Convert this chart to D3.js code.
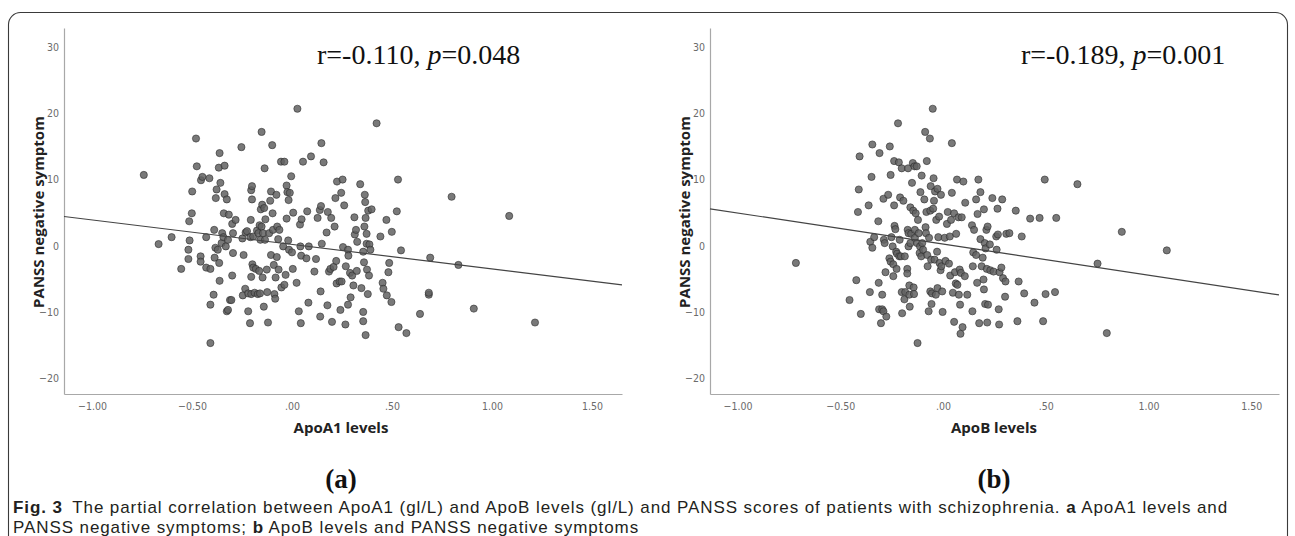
<!DOCTYPE html>
<html>
<head>
<meta charset="utf-8">
<script src="https://cdn.jsdelivr.net/npm/d3@7"></script>
<style>
  body { margin: 0; background: #fff; }
  svg { display: block; }
</style>
</head>
<body>
<div id="chart"></div>
<script>
// tick values shared by both panels
const xTicks = [-1, -0.5, 0, 0.5, 1, 1.5];
const yTicks = [-20, -10, 0, 10, 20, 30];

// panel (a): ApoA1 levels vs PANSS negative symptom
const apoA1X = [
  -0.741,-0.667,-0.602,-0.554,-0.514,-0.501,-0.512,-0.518,-0.518,-0.499,
  -0.48,-0.476,-0.457,-0.457,-0.455,-0.448,-0.429,-0.429,-0.413,-0.408,
  -0.408,-0.408,-0.392,-0.389,-0.387,-0.383,-0.381,-0.377,-0.371,-0.366,
  -0.364,-0.362,-0.362,-0.358,-0.352,-0.349,-0.343,-0.341,-0.337,-0.337,
  -0.331,-0.326,-0.326,-0.320,-0.320,-0.316,-0.310,-0.303,-0.299,-0.299,
  -0.295,-0.295,-0.282,-0.253,-0.248,-0.242,-0.246,-0.232,-0.234,-0.225,
  -0.219,-0.219,-0.210,-0.208,-0.206,-0.204,-0.204,-0.204,-0.200,-0.200,
  -0.198,-0.194,-0.194,-0.187,-0.181,-0.175,-0.171,-0.168,-0.164,-0.162,
  -0.160,-0.158,-0.156,-0.152,-0.152,-0.149,-0.147,-0.145,-0.141,-0.139,
  -0.137,-0.135,-0.133,-0.126,-0.124,-0.120,-0.114,-0.109,-0.105,-0.105,
  -0.099,-0.097,-0.095,-0.091,-0.088,-0.084,-0.082,-0.078,-0.076,-0.074,
  -0.069,-0.067,-0.063,-0.055,-0.053,-0.044,-0.038,-0.038,-0.032,-0.027,
  -0.027,-0.023,-0.019,-0.017,-0.015,-0.011,-0.004,0.000,0.004,0.006,
  0.023,0.027,0.034,0.040,0.042,0.044,0.046,0.048,0.055,0.072,
  0.076,0.082,0.084,0.095,0.112,0.120,0.128,0.139,0.141,0.143,
  0.145,0.147,0.149,0.158,0.173,0.177,0.179,0.185,0.192,0.196,
  0.200,0.208,0.213,0.217,0.221,0.225,0.223,0.238,0.242,0.246,
  0.248,0.253,0.255,0.261,0.267,0.269,0.280,0.280,0.282,0.290,
  0.293,0.301,0.307,0.312,0.314,0.320,0.324,0.326,0.341,0.347,
  0.356,0.356,0.356,0.360,0.362,0.364,0.366,0.368,0.368,0.373,
  0.373,0.375,0.379,0.381,0.385,0.387,0.392,0.398,0.423,0.442,
  0.453,0.457,0.472,0.474,0.482,0.486,0.497,0.499,0.524,0.530,
  0.533,0.545,0.572,0.640,0.684,0.684,0.691,0.798,0.832,0.909,
  1.086,1.215
];
const apoA1Y = [
  10.7,0.25,1.3,-3.5,3.7,4.9,0.8,-0.6,-2.0,8.2,
  16.2,12.0,-1.6,-2.4,9.9,10.4,1.3,-3.3,10.2,-3.5,
  -8.9,-14.7,-7.4,2.4,-1.8,-0.3,7.2,8.5,-0.6,11.8,
  -2.6,14.0,-5.3,9.5,0.4,1.9,1.3,4.9,12.1,7.8,
  -0.1,7.0,-9.9,-9.7,0.9,4.7,-8.2,-8.2,-4.5,3.3,
  1.9,-1.1,3.9,14.9,1.1,-1.4,-7.5,2.0,-6.5,2.2,
  -9.9,-7.2,-11.7,1.3,3.9,8.4,-4.7,-7.3,9.0,7.0,
  -2.8,1.4,-3.3,-7.1,-3.5,2.3,-7.3,1.9,-3.8,3.1,
  -7.2,0.9,5.5,17.2,2.9,6.2,-4.8,1.9,-9.2,5.7,
  11.7,0.9,4.0,-3.6,-7.0,-11.6,1.9,6.8,8.2,-1.4,
  15.2,4.9,2.4,-2.9,-7.3,-8.0,-4.8,7.7,-1.7,2.9,
  1.0,-3.6,2.4,12.7,-6.3,-0.1,12.7,-5.9,-4.4,4.1,
  9.1,8.1,0.8,6.9,-0.6,8.0,10.5,-1.0,-3.5,5.0,
  -5.6,20.7,-9.9,3.2,-0.1,-11.7,-1.5,4.0,12.7,-1.9,
  5.2,-8.6,-0.1,13.5,-3.9,-2.0,4.2,5.4,-10.7,-6.9,
  6.0,15.5,0.3,12.6,2.0,-9.0,5.1,-3.9,-3.5,4.2,
  -11.5,-3.2,2.9,7.2,-2.3,9.7,-5.7,-5.4,-9.7,8.0,
  -5.4,10.0,-0.2,6.1,-11.9,-3.1,-8.9,-0.6,-1.5,-4.1,
  -7.8,-4.5,-6.0,4.3,1.7,2.4,-3.8,0.6,9.3,-6.4,
  -10.0,-11.4,-0.9,-2.5,2.9,7.7,6.6,4.2,-13.5,1.8,
  0.3,-3.6,-7.3,5.3,-4.5,0.2,-0.6,5.5,18.5,1.4,
  -5.6,-6.5,3.9,-7.5,-4.0,-2.6,-8.5,2.1,5.2,10.0,
  -12.3,-0.7,-13.2,-10.3,-7.4,-7.1,-1.8,7.4,-2.9,-9.5,
  4.5,-11.6
];
const apoA1Fit = [0.2, -3.7];   // intercept, slope

// panel (b): ApoB levels vs PANSS negative symptom
const apoBX = [
  -0.716,-0.455,-0.422,-0.414,-0.410,-0.406,-0.400,-0.362,-0.356,-0.354,
  -0.348,-0.344,-0.344,-0.335,-0.315,-0.313,-0.311,-0.309,-0.302,-0.296,
  -0.296,-0.290,-0.290,-0.288,-0.284,-0.280,-0.276,-0.267,-0.261,-0.259,
  -0.255,-0.255,-0.251,-0.245,-0.242,-0.242,-0.238,-0.238,-0.236,-0.232,
  -0.228,-0.226,-0.224,-0.219,-0.215,-0.213,-0.211,-0.209,-0.205,-0.201,
  -0.201,-0.199,-0.193,-0.188,-0.186,-0.184,-0.174,-0.174,-0.172,-0.170,
  -0.168,-0.168,-0.164,-0.164,-0.162,-0.159,-0.159,-0.155,-0.151,-0.147,
  -0.145,-0.143,-0.141,-0.139,-0.137,-0.137,-0.133,-0.128,-0.126,-0.124,
  -0.122,-0.118,-0.114,-0.112,-0.110,-0.106,-0.104,-0.101,-0.097,-0.091,
  -0.087,-0.085,-0.083,-0.081,-0.079,-0.077,-0.075,-0.070,-0.068,-0.064,
  -0.062,-0.062,-0.060,-0.058,-0.056,-0.054,-0.050,-0.048,-0.046,-0.044,
  -0.041,-0.039,-0.035,-0.033,-0.029,-0.027,-0.027,-0.023,-0.019,-0.017,
  -0.012,-0.010,-0.008,-0.004,-0.002,0.008,0.012,0.019,0.023,0.029,
  0.033,0.035,0.039,0.043,0.043,0.048,0.054,0.054,0.058,0.062,
  0.064,0.068,0.070,0.075,0.077,0.081,0.083,0.085,0.087,0.091,
  0.095,0.099,0.106,0.108,0.118,0.141,0.143,0.145,0.147,0.151,
  0.161,0.161,0.166,0.168,0.172,0.176,0.182,0.182,0.188,0.193,
  0.197,0.199,0.199,0.203,0.205,0.207,0.211,0.213,0.215,0.217,
  0.219,0.228,0.230,0.240,0.246,0.259,0.261,0.265,0.267,0.271,
  0.273,0.275,0.284,0.288,0.292,0.302,0.304,0.308,0.323,0.354,
  0.362,0.368,0.383,0.395,0.424,0.445,0.470,0.487,0.495,0.499,
  0.545,0.551,0.654,0.752,0.797,0.870,1.089
];
const apoBY = [
  -2.6,-8.2,-5.2,5.1,8.5,13.5,-10.3,6.1,-7.0,0.6,
  10.4,15.3,-0.3,1.3,3.7,-5.6,-9.6,14.0,-11.7,-7.4,
  -9.6,7.1,-9.9,0.9,0.4,-4.0,-10.7,7.7,-1.9,15.0,
  10.7,-2.4,1.3,-0.1,-4.6,-2.8,12.8,6.1,3.0,2.5,
  -0.9,-3.5,-1.2,18.5,12.6,-1.6,0.9,7.3,-1.6,11.7,
  -7.0,-10.2,6.8,-8.1,-1.6,-7.0,-3.5,-4.2,2.4,11.7,
  1.9,-0.1,-6.0,-7.4,-9.2,5.8,0.4,1.8,9.5,12.5,
  5.3,-6.3,-7.3,12.0,2.4,1.2,4.9,12.0,0.4,-14.7,
  3.9,1.9,-1.1,-0.1,8.1,-1.6,10.6,0.4,-0.6,7.0,
  17.2,2.8,1.9,5.1,12.8,-1.4,-3.1,-9.9,1.2,16.2,
  5.3,-6.9,9.0,-2.1,-8.8,-7.2,20.7,5.6,10.2,6.8,
  -2.1,8.2,-7.4,3.9,-0.9,8.6,-6.4,1.3,4.4,-2.6,
  -3.7,7.7,-3.1,-6.9,-10.0,1.2,-2.3,3.3,5.1,-2.7,
  1.4,-4.5,3.9,15.5,8.0,-7.1,4.9,-11.5,-4.0,-5.7,
  1.8,10.0,-5.9,4.3,-7.4,-3.6,-8.9,-13.3,-4.1,4.3,
  -12.3,9.7,-4.6,6.5,-7.4,3.1,-9.9,-3.1,-1.0,2.4,
  -1.4,7.0,-5.6,4.8,10.0,-11.7,8.1,1.0,-3.1,-1.8,
  -5.1,5.5,-6.6,0.4,-8.8,-0.4,2.4,-3.5,-11.6,2.9,
  -8.9,0.2,-3.7,7.2,-3.9,1.4,-0.6,5.6,1.7,-9.6,
  -11.9,-4.0,-3.3,7.0,-4.9,-7.7,-5.4,1.8,1.9,5.3,
  -11.4,-5.4,1.4,-7.2,4.1,-8.6,4.2,-11.4,10.0,-7.3,
  -7.0,4.2,9.3,-2.7,-13.2,2.1,-0.7
];
const apoBFit = [0.25, -4.7];

const W = 1295, H = 536;
const svg = d3.select("#chart").append("svg")
    .attr("width", W)
    .attr("height", H);

// outer frame of the figure
svg.append("rect")
    .attr("x", 8.5).attr("y", 12.5)
    .attr("width", 1279).attr("height", 600)
    .attr("rx", 12)
    .attr("fill", "none")
    .attr("stroke", "#3a3a3a")
    .attr("stroke-width", 1.1);

const yDomain = [-22.4, 32.9];
const plotTop = 28, plotBottom = 394;

const tickFmt = d => d3.format(".2f")(d).replace(/^(-?)0\./, "$1.");
const tickFont = "'Liberation Sans Narrow','Arial Narrow','DejaVu Sans Condensed',sans-serif";

function drawPanel(p) {
    const x = d3.scaleLinear().domain(p.xDomain).range(p.xRange);
    const y = d3.scaleLinear().domain(yDomain).range([plotBottom, plotTop]);
    const g = svg.append("g");

    let xa = g.append("g")
        .attr("transform", `translate(0,${plotBottom})`)
        .call(d3.axisBottom(x).tickValues(xTicks).tickSize(0).tickPadding(9).tickFormat(tickFmt));
    let ya = g.append("g")
        .attr("transform", `translate(${p.xRange[0]},0)`)
        .call(d3.axisLeft(y).tickValues(yTicks).tickSize(0).tickPadding(5).tickFormat(d3.format("d")));

    [xa, ya].forEach(a => {
        a.select(".domain").attr("stroke", "#a8a8a8").attr("stroke-width", 1.2);
        a.selectAll("text")
            .attr("fill", "#6b6b6b")
            .style("font-family", tickFont)
            .style("font-size", "10.5px");
    });

    // points
    const pts = p.xs.map((v, i) => [v, p.ys[i]]);
    g.append("g").selectAll("circle")
        .data(pts)
        .join("circle")
        .attr("cx", d => x(d[0]))
        .attr("cy", d => y(d[1]))
        .attr("r", 3.6)
        .attr("fill", "#626262")
        .attr("fill-opacity", 0.85)
        .attr("stroke", "#262626")
        .attr("stroke-opacity", 0.8)
        .attr("stroke-width", 0.7);

    // fit line across the whole x range
    const fit = p.xDomain.map(v => [v, p.fit[0] + p.fit[1] * v]);
    g.append("line")
        .attr("x1", x(fit[0][0])).attr("y1", y(fit[0][1]))
        .attr("x2", x(fit[1][0])).attr("y2", y(fit[1][1]))
        .attr("stroke", "#444")
        .attr("stroke-width", 1.2);

    // correlation text
    const t = g.append("text")
        .attr("x", p.statX).attr("y", 64)
        .style("font-family", "'Liberation Serif','Times New Roman',serif")
        .style("font-size", "28px")
        .attr("fill", "#111");
    t.append("tspan").text(p.r + ", ");
    t.append("tspan").style("font-style", "italic").text("p");
    t.append("tspan").text("=" + p.p);

    // axis titles
    g.append("text")
        .attr("transform", `translate(${p.xRange[0] - 20},212) rotate(-90)`)
        .attr("text-anchor", "middle")
        .style("font-family", "'Open Sans',sans-serif")
        .style("font-weight", "bold")
        .style("font-size", "15px")
        .attr("fill", "#222")
        .text("PANSS negative symptom");

    g.append("text")
        .attr("x", p.titleX).attr("y", 433)
        .attr("text-anchor", "middle")
        .style("font-family", "'Open Sans',sans-serif")
        .style("font-weight", "bold")
        .style("font-size", "15px")
        .attr("fill", "#222")
        .text(p.xTitle);

    g.append("text")
        .attr("x", p.titleX).attr("y", 488)
        .attr("text-anchor", "middle")
        .style("font-family", "'Liberation Serif','Times New Roman',serif")
        .style("font-weight", "bold")
        .style("font-size", "27px")
        .attr("fill", "#111")
        .text(p.tag);
}

drawPanel({
    xs: apoA1X, ys: apoA1Y, fit: apoA1Fit,
    xDomain: [-1.14, 1.65], xRange: [64, 622],
    r: "r=-0.110", p: "0.048", statX: 317,
    xTitle: "ApoA1 levels", titleX: 341, tag: "(a)"
});

drawPanel({
    xs: apoBX, ys: apoBY, fit: apoBFit,
    xDomain: [-1.134, 1.635], xRange: [710, 1279],
    r: "r=-0.189", p: "0.001", statX: 1021,
    xTitle: "ApoB levels", titleX: 994, tag: "(b)"
});

// caption
const capFont = "'Liberation Sans',Arial,sans-serif";
const cap1 = svg.append("text")
    .attr("x", 13).attr("y", 513)
    .style("font-family", capFont)
    .style("font-size", "16px")
    .attr("fill", "#231f20");
cap1.append("tspan").style("font-weight", "bold").text("Fig. 3");
cap1.append("tspan").text("\u2002The partial correlation between ApoA1 (gl/L) and ApoB levels (gl/L) and PANSS scores of patients with schizophrenia. ");
cap1.append("tspan").style("font-weight", "bold").text("a");
cap1.append("tspan").text(" ApoA1 levels and");

const cap2 = svg.append("text")
    .attr("x", 13).attr("y", 533)
    .style("font-family", capFont)
    .style("font-size", "16px")
    .attr("fill", "#231f20");
cap2.append("tspan").text("PANSS negative symptoms; ");
cap2.append("tspan").style("font-weight", "bold").text("b");
cap2.append("tspan").text(" ApoB levels and PANSS negative symptoms");

// fit the first caption line to the figure width: font size up to 17px,
// the rest made up with letter spacing
const target = 1215;
const len16 = cap1.node().getComputedTextLength();
const fs = Math.min(17, 16 * target / len16);
cap1.style("font-size", fs + "px");
cap2.style("font-size", fs + "px");
const lenFs = cap1.node().getComputedTextLength();
const nChars = cap1.text().length;
const ls = Math.max(0, (target - lenFs) / nChars);
cap1.style("letter-spacing", ls + "px");
cap2.style("letter-spacing", ls + "px");
</script>
</body>
</html>
